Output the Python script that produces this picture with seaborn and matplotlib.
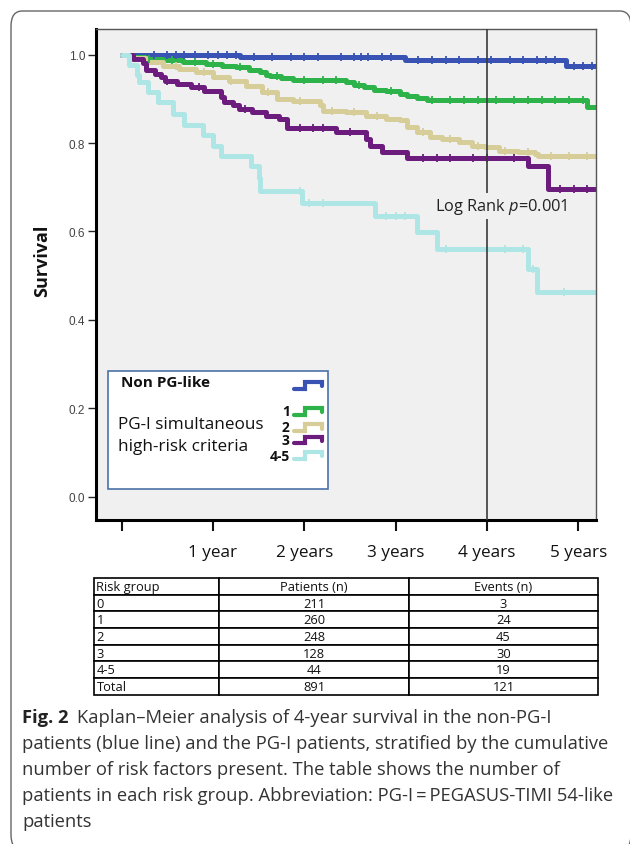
import numpy as np
import pandas as pd
import matplotlib
matplotlib.use('Agg')
import matplotlib.pyplot as plt
import seaborn as sns
from matplotlib.patches import FancyBboxPatch, Rectangle

sns.set_style('white')
plt.rcParams['font.family'] = ['Open Sans', 'DejaVu Sans']
plt.rcParams['mathtext.fontset'] = 'custom'
plt.rcParams['mathtext.rm'] = 'Open Sans'
plt.rcParams['mathtext.it'] = 'Open Sans:italic'

# ---- data (time in years, survival) ----
groups = ['0', '1', '2', '3', '4-5']

t_g0 = [0, 1.30, 3.10, 4.87]
s_g0 = [1.0, 0.995, 0.988, 0.974]

t_g1 = [0, 0.12, 0.25, 0.45, 0.67, 0.92, 1.10, 1.25, 1.40, 1.52, 1.58, 1.62, 1.74,
        1.88, 2.46, 2.54, 2.65, 2.76, 2.90, 3.05, 3.12, 3.23, 3.34, 5.10]
s_g1 = [1.0, 0.994, 0.990, 0.987, 0.983, 0.979, 0.975, 0.972, 0.966, 0.960, 0.955, 0.951, 0.947,
        0.942, 0.937, 0.932, 0.926, 0.921, 0.917, 0.912, 0.907, 0.902, 0.898, 0.882]

t_g2 = [0, 0.08, 0.27, 0.45, 0.63, 0.81, 1.00, 1.18, 1.36, 1.54, 1.70, 1.88, 2.17, 2.21,
        2.46, 2.68, 2.90, 3.05, 3.12, 3.23, 3.38, 3.51, 3.69, 3.84, 3.98, 4.13, 4.34, 4.53, 4.56]
s_g2 = [1.0, 0.992, 0.983, 0.975, 0.968, 0.960, 0.949, 0.941, 0.930, 0.915, 0.900, 0.896, 0.885, 0.873,
        0.870, 0.862, 0.855, 0.851, 0.836, 0.824, 0.813, 0.809, 0.802, 0.794, 0.790, 0.783, 0.779, 0.775, 0.771]

t_g3 = [0, 0.12, 0.23, 0.27, 0.36, 0.43, 0.47, 0.61, 0.76, 0.90, 1.09, 1.12, 1.22, 1.29,
        1.43, 1.58, 1.72, 1.81, 2.35, 2.68, 2.72, 2.85, 3.12, 4.45, 4.67]
s_g3 = [1.0, 0.990, 0.982, 0.965, 0.957, 0.949, 0.941, 0.934, 0.926, 0.918, 0.904, 0.892, 0.885, 0.877,
        0.870, 0.862, 0.855, 0.833, 0.824, 0.809, 0.794, 0.779, 0.766, 0.747, 0.697]

t_g4 = [0, 0.08, 0.17, 0.19, 0.285, 0.394, 0.559, 0.686, 0.887, 0.997, 1.088, 1.416, 1.50, 1.52,
        1.97, 2.77, 3.23, 3.45, 4.45, 4.55]
s_g4 = [1.0, 0.977, 0.955, 0.938, 0.915, 0.892, 0.866, 0.840, 0.818, 0.794, 0.770, 0.747, 0.720, 0.692,
        0.664, 0.636, 0.598, 0.560, 0.515, 0.462]

# censored observations (tick marks)
c_g0 = [0.35, 0.5, 0.6, 0.68, 0.8, 0.95, 1.05, 1.15, 1.25, 1.45, 1.65, 1.85, 2.0, 2.15, 2.4, 2.55,
        2.62, 2.7, 2.85, 2.95, 3.25, 3.4, 3.55, 3.7, 3.9, 4.05, 4.25, 4.4, 4.55, 4.65, 4.75, 4.95, 5.05, 5.15]
c_g1 = [0.3, 0.55, 0.8, 1.0, 1.3, 1.7, 2.0, 2.2, 2.35, 2.6, 2.95, 3.4, 3.6, 3.75, 3.9, 4.1, 4.3,
        4.45, 4.6, 4.75, 4.9, 5.05]
c_g2 = [0.6, 0.9, 1.2, 1.6, 1.95, 2.3, 2.55, 2.8, 3.3, 3.6, 3.9, 4.2, 4.45, 4.7, 4.9, 5.1]
c_g3 = [0.5, 0.85, 1.35, 1.95, 2.1, 2.2, 2.5, 3.3, 3.45, 3.6, 3.85, 4.0, 4.3, 4.8, 4.95, 5.1]
c_g4 = [1.95, 2.05, 2.2, 2.9, 3.0, 3.1, 3.55, 4.0, 4.2, 4.4, 4.5, 4.85]

follow_up_end = 5.25

x_ticks = [0, 1, 2, 3, 4, 5]
x_labels = ['', '1 year', '2 years', '3 years', '4 years', '5 years']
y_ticks = [0.0, 0.2, 0.4, 0.6, 0.8, 1.0]

legend_numbers = ['1', '2', '3', '4-5']

table_header = ['Risk group', 'Patients (n)', 'Events (n)']
table_groups = ['0', '1', '2', '3', '4-5', 'Total']
table_patients = [211, 260, 248, 128, 44, 891]
table_events = [3, 24, 45, 30, 19, 121]

caption_first = 'Kaplan\u2013Meier analysis of 4-year survival in the non-PG-I'
caption_lines = [
    'patients (blue line) and the PG-I patients, stratified by the cumulative',
    'number of risk factors present. The table shows the number of',
    'patients in each risk group. Abbreviation: PG-I\u2009=\u2009PEGASUS-TIMI 54-like',
    'patients',
]

colors = ['#3853b3', '#2eb24a', '#d6cd98', '#6b1c7c', '#aee5e5']

times = [t_g0, t_g1, t_g2, t_g3, t_g4]
survs = [s_g0, s_g1, s_g2, s_g3, s_g4]
cens = [c_g0, c_g1, c_g2, c_g3, c_g4]

rows = []
for g, t, s in zip(groups, times, survs):
    for a, b in zip(list(t) + [follow_up_end], list(s) + [s[-1]]):
        rows.append({'group': g, 'time': a, 'survival': b})
df = pd.DataFrame(rows)

# ---- figure ----
fig = plt.figure(figsize=(6.3, 8.45), dpi=100)
ax = fig.add_axes([0.153, 0.3834, 0.793, 0.5811])
ax.set_facecolor('#f0f0f0')

sns.lineplot(data=df, x='time', y='survival', hue='group', palette=colors,
             drawstyle='steps-post', estimator=None, sort=False, lw=3.6,
             legend=False, ax=ax, zorder=2)

# censor ticks
for t, s, c, col in zip(times, survs, cens, colors):
    idx = np.searchsorted(t, c, side='right') - 1
    ax.plot(c, np.array(s)[idx], ls='none', marker='|', ms=5.5, mew=1.3, color=col, zorder=2)

ax.axvline(4, color='#3a3a3a', lw=1.2, zorder=3)
ax.text(4.155, 0.657, r'Log Rank $p$=0.001', ha='center', va='center', fontsize=11.8,
        color='#222', zorder=5, bbox=dict(fc='#f0f0f0', ec='none', pad=2))

ax.set_xlim(-0.277, 5.195)
ax.set_ylim(-0.053, 1.058)
ax.set_xticks(x_ticks)
ax.set_xticklabels(x_labels)
ax.set_yticks(y_ticks)
ax.set_yticklabels([f'{v:.1f}' for v in y_ticks])
ax.set_xlabel('')
ax.set_ylabel('')
ax.tick_params(axis='x', length=8, width=1.5, pad=9, labelsize=12.3, colors='#111', bottom=True)
ax.tick_params(axis='y', length=6, width=1, pad=2, labelsize=8.5, labelcolor='#444', left=True)
for lbl in ax.get_yticklabels():
    lbl.set_fontfamily('Liberation Sans')

for side in ['left', 'bottom']:
    ax.spines[side].set_linewidth(2.2)
    ax.spines[side].set_color('black')
for side in ['top', 'right']:
    ax.spines[side].set_linewidth(1)
    ax.spines[side].set_color('#555')

ax.text(-0.109, 0.53, 'Survival', rotation=90, ha='center', va='center',
        fontsize=13, fontweight='bold', color='#111', transform=ax.transAxes)

# ---- legend box ----
ax.add_patch(Rectangle((0.024, 0.063), 0.4406, 0.241, transform=ax.transAxes,
                       fc='white', ec='#4a72a8', lw=1.2, zorder=6))
ax.text(0.049, 0.281, 'Non PG-like', fontsize=11, fontweight='bold', va='center',
        transform=ax.transAxes, zorder=7, color='#111')
ax.text(0.043, 0.1955, 'PG-I simultaneous', fontsize=12.3, va='center',
        transform=ax.transAxes, zorder=7, color='#111')
ax.text(0.043, 0.151, 'high-risk criteria', fontsize=12.3, va='center',
        transform=ax.transAxes, zorder=7, color='#111')
num_y = [0.2226, 0.1888, 0.163, 0.131]
for lab, yy in zip(legend_numbers, num_y):
    ax.text(0.387, yy, lab, fontsize=10, fontweight='bold', ha='right', va='center',
            transform=ax.transAxes, zorder=7, color='#111')
icon_y = [0.274, 0.221, 0.188, 0.163, 0.132]
for yc, col in zip(icon_y, colors):
    ax.plot([0.396, 0.418, 0.418, 0.452, 0.452],
            [yc - 0.007, yc - 0.007, yc + 0.007, yc + 0.007, yc - 0.002],
            color=col, lw=3, transform=ax.transAxes, zorder=7, clip_on=False,
            solid_joinstyle='miter')

# ---- table ----
tax = fig.add_axes([94 / 630, 1 - 695.7 / 845, 504 / 630, 116.7 / 845])
tax.axis('off')
cells = [[g, str(p), str(e)] for g, p, e in zip(table_groups, table_patients, table_events)]
tab = tax.table(cellText=cells, colLabels=table_header, bbox=[0, 0, 1, 1],
                colWidths=[0.248, 0.377, 0.375])
tab.auto_set_font_size(False)
for (r, c), cell in tab.get_celld().items():
    cell.set_linewidth(1.2)
    cell.set_edgecolor('black')
    cell.get_text().set_fontsize(9.3)
    cell.get_text().set_color('#111')
    if c == 0:
        cell.get_text().set_ha('left')
        cell.PAD = 0.02
    else:
        cell.get_text().set_ha('center')

# ---- caption ----
t1 = fig.text(22 / 630, 1 - 718 / 845, 'Fig. 2', fontsize=13.2, fontweight='bold',
              va='center', color='#222')
plt.annotate(caption_first, xy=(1, 0.5), xycoords=t1, xytext=(6, 0),
             textcoords='offset points', va='center', fontsize=13.2, color='#333')
for i, line in enumerate(caption_lines):
    fig.text(22 / 630, 1 - (744 + 26 * i) / 845, line, fontsize=13.2, va='center', color='#333')

# ---- outer rounded frame ----
frame = FancyBboxPatch((11 / 630, -6 / 845), 620 / 630, 839 / 845,
                       boxstyle='round,pad=0,rounding_size=0.018',
                       transform=fig.transFigure, fill=False, ec='#666', lw=1)
fig.patches.append(frame)

fig.savefig('out.png', dpi=100)
